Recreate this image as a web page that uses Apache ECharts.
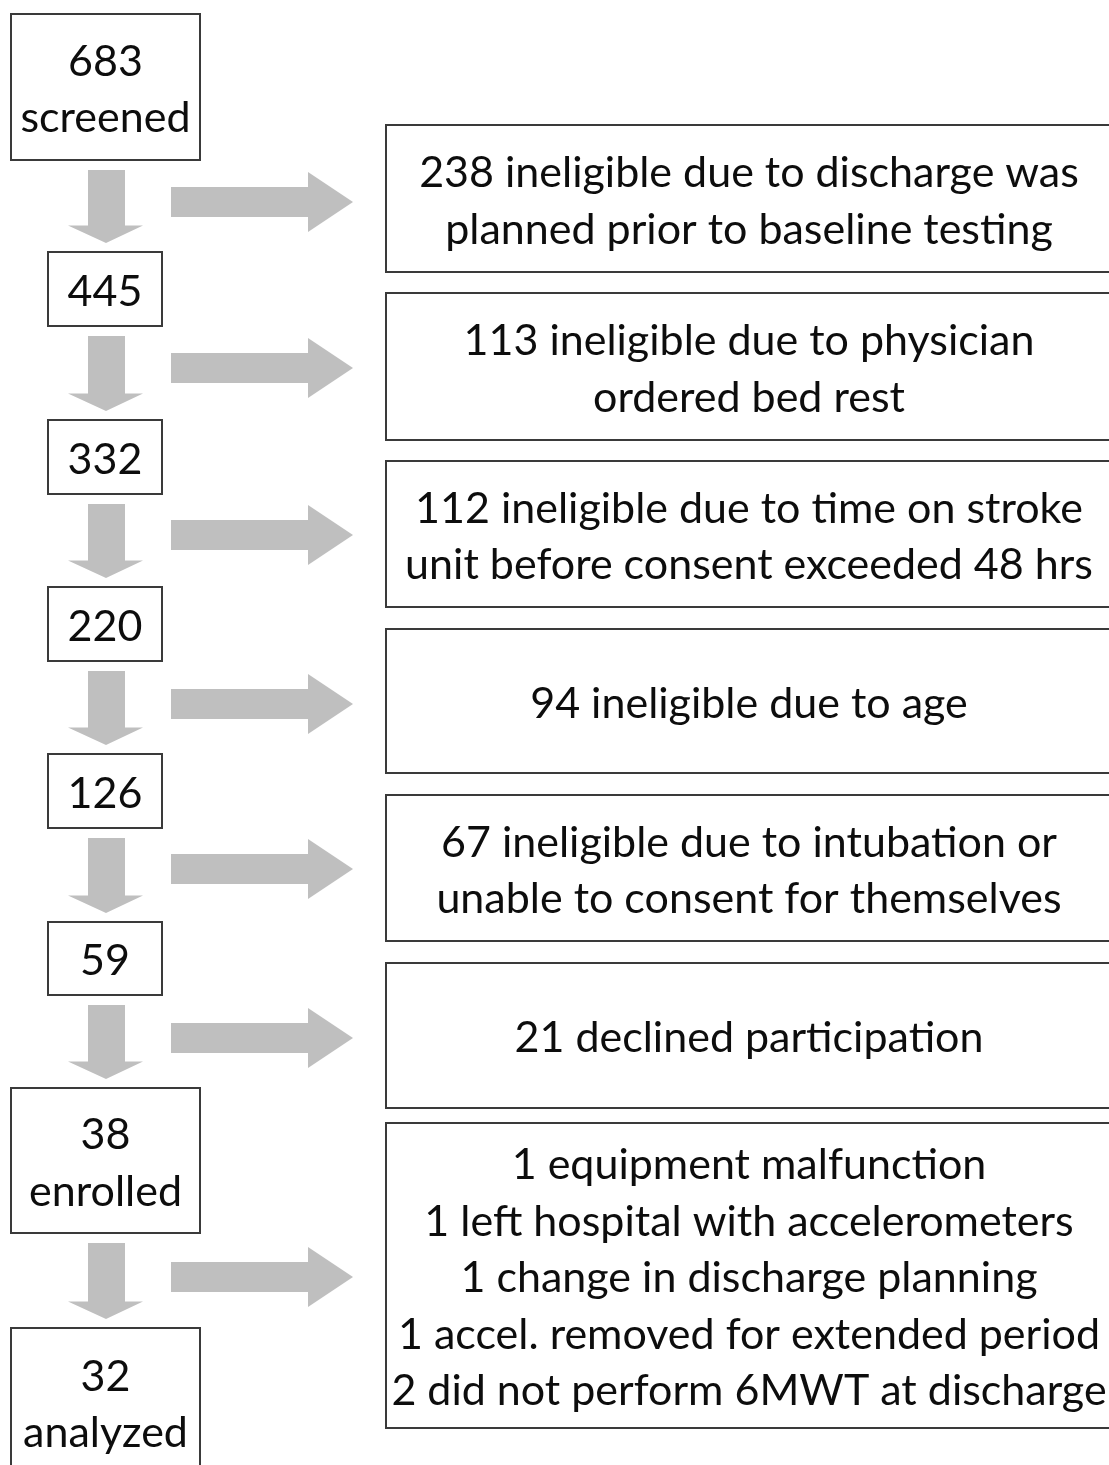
<!DOCTYPE html>
<html>
<head>
<meta charset="utf-8">
<script src="https://cdn.jsdelivr.net/npm/echarts@6/dist/echarts.min.js"></script>
<style>
html,body{margin:0;padding:0;background:#fff;}
#chart{width:1109px;height:1465px;}
</style>
</head>
<body>
<div id="chart"></div>
<script>
// ---- data ----
var stageCounts = [683, 445, 332, 220, 126, 59, 38, 32];
var stageNames = ['screened', '', '', '', '', '', 'enrolled', 'analyzed'];
var exclusionLines = [
  ['238 ineligible due to discharge was', 'planned prior to baseline testing'],
  ['113 ineligible due to physician', 'ordered bed rest'],
  ['112 ineligible due to time on stroke', 'unit before consent exceeded 48 hrs'],
  ['94 ineligible due to age'],
  ['67 ineligible due to intubation or', 'unable to consent for themselves'],
  ['21 declined participation'],
  ['1 equipment malfunction', '1 left hospital with accelerometers', '1 change in discharge planning',
   '1 accel. removed for extended period', '2 did not perform 6MWT at discharge']
];

// ---- layout (in canvas-unit axis coordinates) ----
var LEFT_WIDE = [11, 200], LEFT_NARROW = [48, 162];
var leftTop =    [14, 252, 420, 587, 754, 922, 1088, 1328];
var leftBottom = [160, 326, 494, 661, 828, 995, 1233, 1476];
var RIGHT_X = [386, 1112];
var rightTop =    [125, 293, 461, 629, 795, 963, 1123];
var rightBottom = [272, 440, 607, 773, 941, 1108, 1428];
var rightArrowY = [202, 368, 535, 704, 869, 1038, 1277];

var FONT_FAMILY = 'Lato, "Noto Sans", sans-serif';
var FONT_SIZE = 43, LINE_H = 56.5, TEXT_DY = 3;
var ARROW_COLOR = '#bfbfbf', BORDER = '#3a3a3a', TEXT = '#0d0d0d';

function boxGroup(api, x0, y0, x1, y1, text) {
  var p0 = api.coord([x0, y0]), p1 = api.coord([x1, y1]);
  return {
    type: 'group',
    children: [
      { type: 'rect', shape: { x: p0[0], y: p0[1], width: p1[0] - p0[0], height: p1[1] - p0[1] },
        style: { fill: '#fff', stroke: BORDER, lineWidth: 2 } },
      { type: 'text', style: { text: text, x: (p0[0] + p1[0]) / 2, y: (p0[1] + p1[1]) / 2 + TEXT_DY,
          align: 'center', verticalAlign: 'middle', fill: TEXT,
          font: FONT_SIZE + 'px ' + FONT_FAMILY, lineHeight: LINE_H } }
    ]
  };
}

function poly(api, pts) {
  return { type: 'polygon', shape: { points: pts.map(function (p) { return api.coord(p); }) },
    style: { fill: ARROW_COLOR } };
}

var option = {
  animation: false,
  backgroundColor: '#fff',
  grid: { left: 0, right: 0, top: 0, bottom: 0 },
  xAxis: { type: 'value', min: 0, max: 1109, show: false },
  yAxis: { type: 'value', min: 0, max: 1465, inverse: true, show: false },
  series: [
    { // down arrows between stages
      type: 'custom', silent: true,
      data: stageCounts.slice(1).map(function (v, i) { return [i, v]; }),
      renderItem: function (params, api) {
        var i = api.value(0);
        var y0 = leftBottom[i] + 10, tip = leftTop[i + 1] - 9, hb = tip - 17.5;
        return poly(api, [[88, y0], [125, y0], [125, hb], [143, hb], [106, tip], [68, hb], [88, hb]]);
      }
    },
    { // right arrows to exclusion boxes
      type: 'custom', silent: true,
      data: exclusionLines.map(function (v, i) { return [i]; }),
      renderItem: function (params, api) {
        var i = api.value(0), c = rightArrowY[i];
        return poly(api, [[171, c - 15], [308, c - 15], [308, c - 30], [353, c], [308, c + 30], [308, c + 15], [171, c + 15]]);
      }
    },
    { // stage boxes
      type: 'custom', silent: true,
      data: stageCounts.map(function (v, i) { return [i, v]; }),
      renderItem: function (params, api) {
        var i = api.value(0), n = stageCounts[i], name = stageNames[i];
        var xs = name ? LEFT_WIDE : LEFT_NARROW;
        return boxGroup(api, xs[0], leftTop[i], xs[1], leftBottom[i], name ? n + '\n' + name : String(n));
      }
    },
    { // exclusion boxes
      type: 'custom', silent: true,
      data: exclusionLines.map(function (v, i) { return [i]; }),
      renderItem: function (params, api) {
        var i = api.value(0);
        return boxGroup(api, RIGHT_X[0], rightTop[i], RIGHT_X[1], rightBottom[i], exclusionLines[i].join('\n'));
      }
    }
  ]
};

var chart = echarts.init(document.getElementById('chart'), null, { renderer: 'canvas' });
chart.setOption(option);
</script>
</body>
</html>
